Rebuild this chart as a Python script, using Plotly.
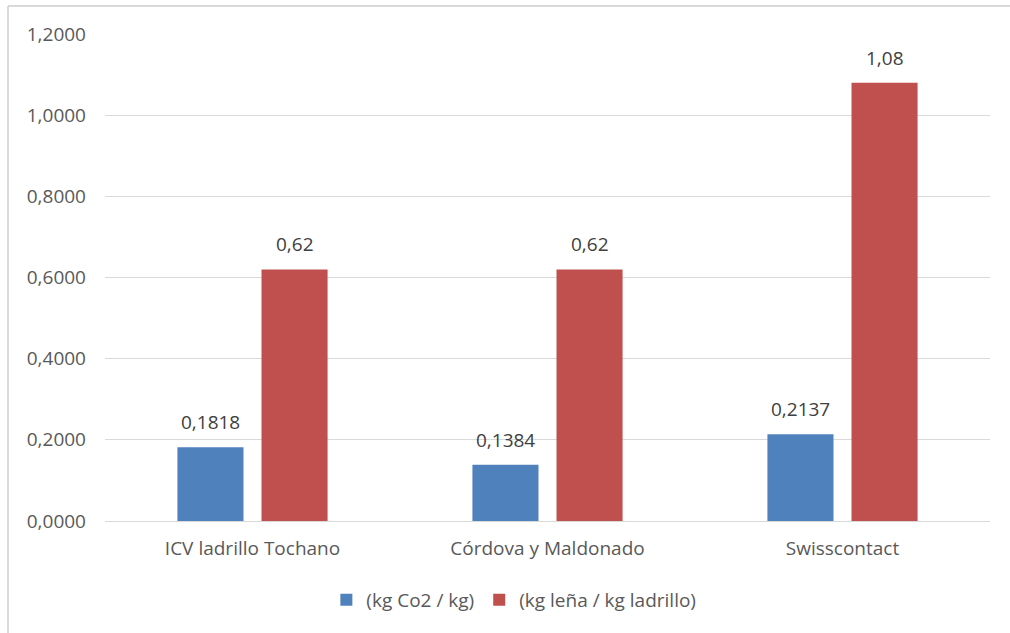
import plotly.graph_objects as go

categories = ["ICV ladrillo Tochano", "Córdova y Maldonado", "Swisscontact"]
co2_values = [0.1818, 0.1384, 0.2137]
lena_values = [0.62, 0.62, 1.08]
series_names = ["(kg Co2 / kg)", "(kg leña / kg ladrillo)"]
y_ticks = [0, 0.2, 0.4, 0.6, 0.8, 1.0, 1.2]

FONT = "Open Sans"
TICK_COLOR = "#595959"
LABEL_COLOR = "#404040"
GRID = "#d9d9d9"
SIZE = 19

fig = go.Figure()
fig.add_trace(go.Bar(
    x=categories, y=co2_values, name=series_names[0],
    marker=dict(color="#4f81bd", line=dict(width=0)),
))
fig.add_trace(go.Bar(
    x=categories, y=lena_values, name=series_names[1],
    marker=dict(color="#c0504d", line=dict(width=0)),
))

# value labels above each bar, shifted onto the bar within its group
annotations = []
for values, fmt, shift in ((co2_values, "{:.4f}", -42), (lena_values, "{:.2f}", 42)):
    for cat, v in zip(categories, values):
        annotations.append(dict(
            x=cat, y=v, xref="x", yref="y", xshift=shift, yshift=10,
            yanchor="bottom", showarrow=False,
            text=fmt.format(v).replace(".", ","),
            font=dict(family=FONT, size=SIZE, color=LABEL_COLOR),
        ))

fig.update_layout(
    width=1010, height=633,
    margin=dict(l=105, r=20, t=34, b=112),
    paper_bgcolor="white", plot_bgcolor="white",
    separators=",.",
    barmode="group", bargap=0.43, bargroupgap=0.214,
    font=dict(family=FONT, size=SIZE, color=TICK_COLOR),
    showlegend=True,
    legend=dict(orientation="h", x=0.462, xanchor="center", y=-0.162, yanchor="middle",
                font=dict(family=FONT, size=SIZE, color=TICK_COLOR),
                itemwidth=30, tracegroupgap=0),
    xaxis=dict(showgrid=False, showline=False, ticks="", ticklabelstandoff=14,
               tickfont=dict(family=FONT, size=SIZE, color=TICK_COLOR)),
    yaxis=dict(range=[0, 1.2], tickvals=y_ticks, tickformat=".4f",
               showgrid=True, gridcolor=GRID, gridwidth=1,
               zeroline=True, zerolinecolor=GRID, zerolinewidth=1,
               showline=False, ticks="", ticklen=0, ticklabelstandoff=18,
               tickfont=dict(family=FONT, size=SIZE, color=TICK_COLOR)),
    annotations=annotations,
    shapes=[
        dict(type="line", xref="paper", yref="paper",
             x0=-0.1096, x1=-0.1096, y0=1.0575, y1=-0.5,
             line=dict(color=GRID, width=2)),
        dict(type="line", xref="paper", yref="paper",
             x0=-0.1096, x1=1.1, y0=1.0575, y1=1.0575,
             line=dict(color=GRID, width=2)),
    ],
)

fig.write_html("out.html")
